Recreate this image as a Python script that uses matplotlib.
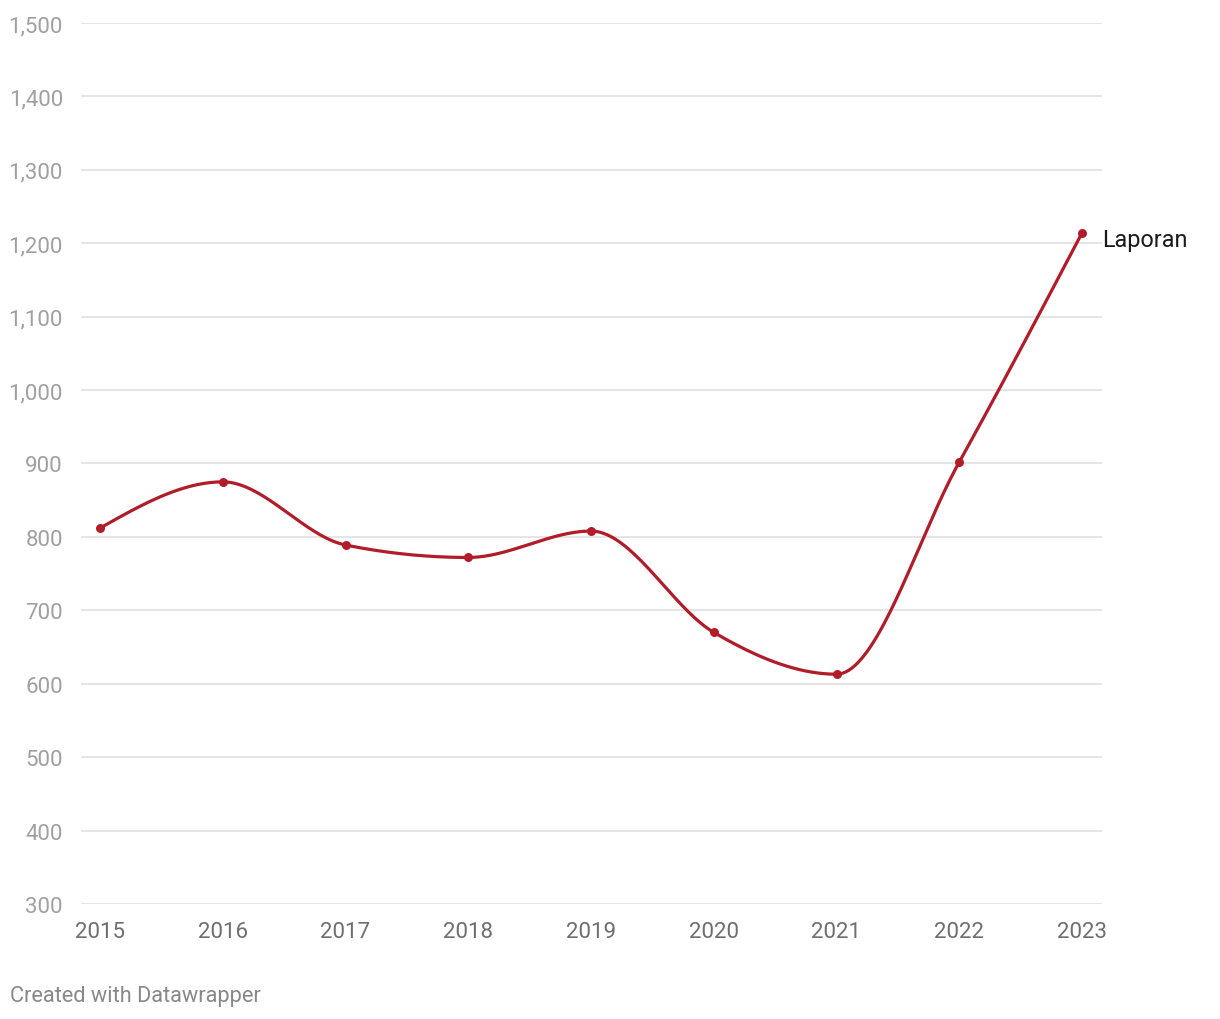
import matplotlib
matplotlib.use("Agg")
import matplotlib.pyplot as plt
import numpy as np
from matplotlib.ticker import FuncFormatter

plt.rcParams["font.family"] = ["Roboto", "DejaVu Sans"]

years = [2015, 2016, 2017, 2018, 2019, 2020, 2021, 2022, 2023]
laporan = [812, 875, 789, 772, 808, 670, 613, 902, 1214]
series_label = "Laporan"
y_ticks = [300, 400, 500, 600, 700, 800, 900, 1000, 1100, 1200, 1300, 1400, 1500]

LINE_COLOR = "#b01c2a"


def monotone_curve(x, y, n=40):
    """Monotone cubic (Fritsch-Carlson / d3 curveMonotoneX style) for drawing the line."""
    x = np.asarray(x, float)
    y = np.asarray(y, float)
    h = np.diff(x)
    s = np.diff(y) / h
    m = np.zeros_like(y)
    for i in range(1, len(y) - 1):
        if s[i - 1] * s[i] <= 0:
            m[i] = 0
        else:
            p = (s[i - 1] * h[i] + s[i] * h[i - 1]) / (h[i - 1] + h[i])
            m[i] = (np.sign(s[i - 1]) + np.sign(s[i])) * min(abs(s[i - 1]), abs(s[i]), 0.5 * abs(p))
    m[0] = (3 * s[0] - m[1]) / 2
    m[-1] = (3 * s[-1] - m[-2]) / 2
    xs, ys = [], []
    for i in range(len(h)):
        t = np.linspace(0, 1, n)
        h00 = 2 * t**3 - 3 * t**2 + 1
        h10 = t**3 - 2 * t**2 + t
        h01 = -2 * t**3 + 3 * t**2
        h11 = t**3 - t**2
        xs.append(x[i] + t * h[i])
        ys.append(h00 * y[i] + h10 * h[i] * m[i] + h01 * y[i + 1] + h11 * h[i] * m[i + 1])
    return np.concatenate(xs), np.concatenate(ys)


fig = plt.figure(figsize=(12.2, 10.2), dpi=100)
ax = fig.add_axes([81 / 1220, 1 - 905 / 1020, (1102 - 81) / 1220, (905 - 24) / 1020])

cx, cy = monotone_curve(years, laporan)
ax.plot(cx, cy, color=LINE_COLOR, linewidth=2.3, solid_capstyle="round", zorder=3)
ax.scatter(years, laporan, s=42, color=LINE_COLOR, zorder=4, linewidths=0)

ax.set_xlim(2015 - 19 / 122.75, 2023 + 20 / 122.75)
ax.set_ylim(300, 1500)
ax.set_yticks(y_ticks)
ax.yaxis.set_major_formatter(FuncFormatter(lambda v, _: f"{int(v):,}"))
ax.set_xticks(years)
ax.set_xticklabels([str(y) for y in years])
ax.grid(axis="y", color="#e3e3e3", linewidth=1.3)
ax.set_axisbelow(True)
for sp in ax.spines.values():
    sp.set_visible(False)
ax.tick_params(axis="y", length=0, pad=13, labelsize=16, labelcolor="#a0a0a0")
ax.tick_params(axis="x", length=0, pad=12, labelsize=16, labelcolor="#6e6e6e")

ax.annotate(series_label, xy=(years[-1], laporan[-1]), xytext=(14.4, -4.6),
            textcoords="offset points", fontsize=16.8, color="#1a1a1a",
            ha="left", va="center", annotation_clip=False)

fig.text(10 / 1220, 1 - 997 / 1020, "Created with Datawrapper", fontsize=15.7,
         color="#888888", ha="left", va="center")

fig.savefig("out.png", dpi=100)
